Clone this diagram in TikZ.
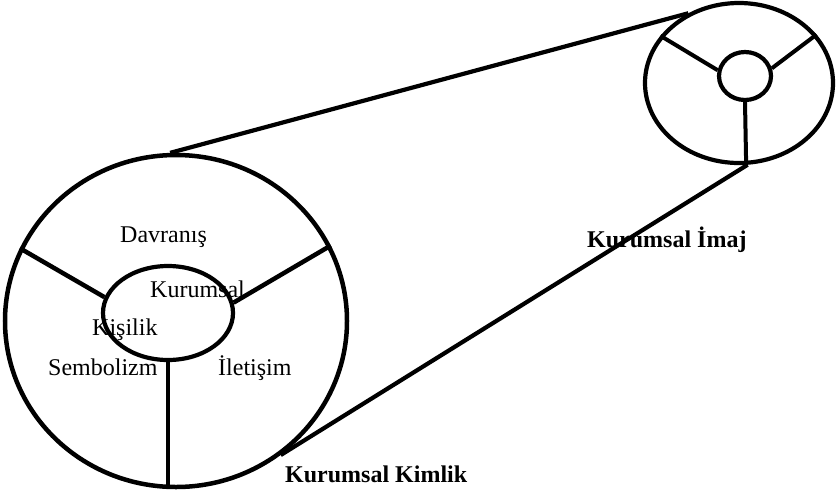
\documentclass[tikz,border=0pt]{standalone}
\usepackage{fontspec}
\setmainfont{Liberation Serif}
\usetikzlibrary{shapes.geometric}
\begin{document}
\begin{tikzpicture}[x=1pt,y=-1pt,
  ring/.style={ellipse,draw,inner sep=0pt,line width=4.5pt},
  hub/.style={ellipse,draw,inner sep=0pt,line width=4.2pt},
  spoke/.style={line width=4.5pt},
  belt/.style={line width=4.2pt},
  lbl/.style={anchor=base west,inner sep=0pt,font=\fontsize{24}{28}\selectfont},
  title/.style={anchor=base west,inner sep=0pt,font=\fontsize{24}{28}\selectfont\bfseries}]
\useasboundingbox (0,0) rectangle (837,496);

% labels of the corporate identity wheel
\node[lbl] (davranis) at (120,242) {Davranış};
\node[lbl] (kurumsal) at (150,297) {Kurumsal};
\node[lbl] (kisilik) at (92,335) {Kişilik};
\node[lbl] (sembolizm) at (48,375) {Sembolizm};
\node[lbl] (iletisim) at (218,375) {İletişim};
\node[title] (kimlik) at (285,482) {Kurumsal Kimlik};
\node[title] (imaj) at (587,247) {Kurumsal İmaj};

% large wheel: corporate identity
\node[ring,minimum width=342pt,minimum height=332pt] (big) at (176,321) {};
\node[hub,minimum width=130pt,minimum height=94pt] (bighub) at (168,313) {};
\draw[spoke] (big.155) -- (bighub.166);
\draw[spoke] (big.26) -- (bighub.9);
\draw[spoke] (bighub.south) -- (bighub.south |- big.south);

% small wheel: corporate image
\node[ring,line width=4.2pt,minimum width=188pt,minimum height=160pt] (small) at (739,83) {};
\node[hub,minimum width=52pt,minimum height=48pt] (smallhub) at (745,76) {};
\draw[spoke,line width=4pt] (small.149) -- (smallhub.168);
\draw[spoke,line width=4pt] (small.32) -- (smallhub.16);
\draw[spoke,line width=4pt] (smallhub.south) -- (small.275);

% belt lines joining the two wheels
\draw[belt] (big.92) -- (small.126);
\draw[belt] (big.308) -- (small.276);
\end{tikzpicture}
\end{document}
